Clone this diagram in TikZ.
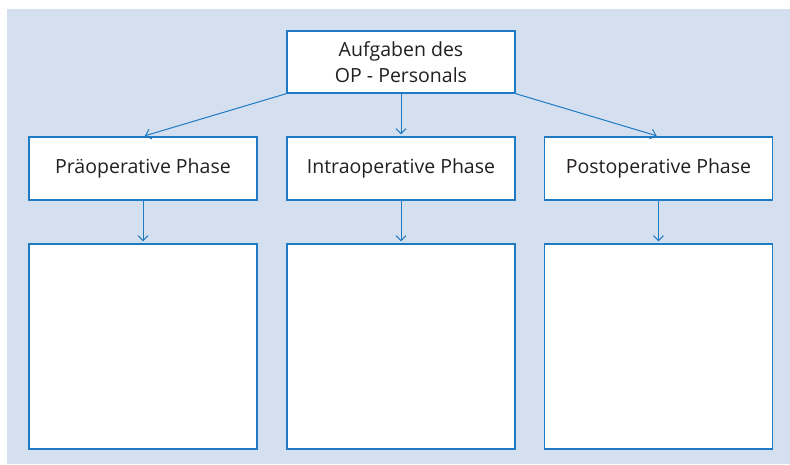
\documentclass[tikz,border=0pt]{standalone}
\usepackage{fontspec}
\setmainfont{Open Sans}
\usetikzlibrary{arrows.meta}
\definecolor{bgblue}{RGB}{212,224,240}
\definecolor{lineblue}{RGB}{30,122,194}
\definecolor{txtgray}{RGB}{35,31,32}
\tikzset{
  box/.style={draw=lineblue, line width=1.3pt, fill=white, text=txtgray,
    minimum width=228pt, inner sep=0pt, align=center,
    font=\fontsize{19.5}{26}\selectfont},
  phase/.style={box, minimum height=63pt},
  empty/.style={box, minimum height=205pt},
  link/.style={draw=lineblue, line width=1pt, -{Straight Barb[length=5pt,width=10pt]}, shorten >=2pt}
}
\begin{document}
\begin{tikzpicture}[x=1pt, y=-1pt]
      \useasboundingbox (0,0) rectangle (790,464);
      \fill[bgblue] (7,9) rectangle (790,464);
      \draw
        (401,62) node[box, minimum height=62pt] (top){Aufgaben des\\OP - Personals}
        (143,168.5) node[phase] (pre){Präoperative Phase}
        (401,168.5) node[phase] (intra){Intraoperative Phase}
        (658.5,168.5) node[phase] (post){Postoperative Phase}
        (143,346.5) node[empty] (prebox){}
        (401,346.5) node[empty] (intrabox){}
        (658.5,346.5) node[empty] (postbox){};
      \begin{scope}[link]
        \draw (top.south west) to (pre.north);
        \draw (top.south) to (intra.north);
        \draw (top.south east) to (post.north);
        \draw (pre.south) to (prebox.north);
        \draw (intra.south) to (intrabox.north);
        \draw (post.south) to (postbox.north);
      \end{scope}
    \end{tikzpicture}
\end{document}
